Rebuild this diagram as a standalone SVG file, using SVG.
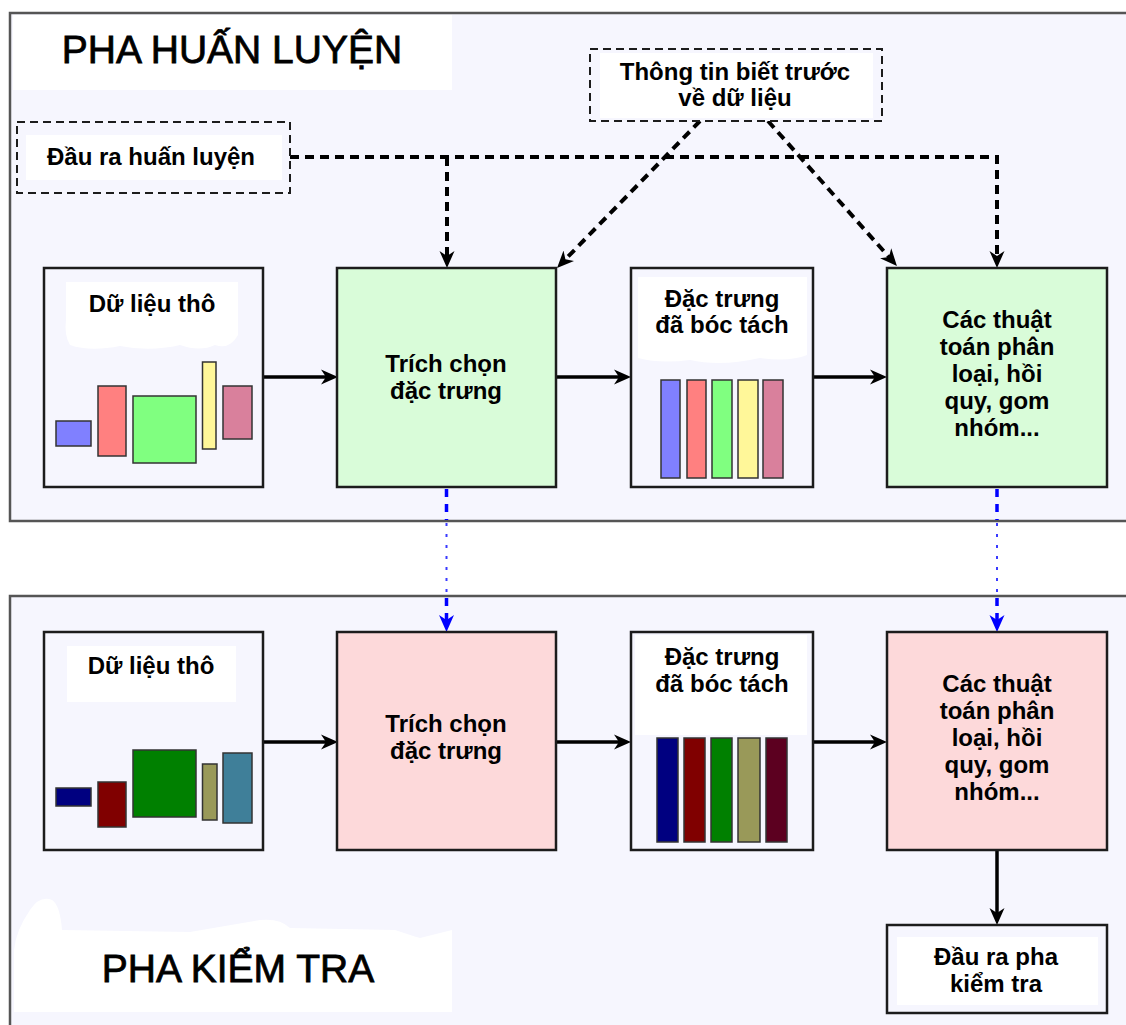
<svg xmlns="http://www.w3.org/2000/svg" width="1126" height="1025" viewBox="0 0 1126 1025">
<style>
.panel{fill:#f6f6fe;stroke:#555;stroke-width:2.5}
.box{stroke:#1c1c1c;stroke-width:2.5}
.plain{fill:#f6f6fe}
.green{fill:#d9fcd9}
.pink{fill:#fdd9da}
.dbox{fill:#f6f6fe;stroke:#1c1c1c;stroke-width:2;stroke-dasharray:8 5}
.wh{fill:#fff}
.lbl{font-family:"Liberation Sans",Arial,sans-serif;font-size:24px;font-weight:bold;fill:#000;text-anchor:middle}
.title{font-family:"Liberation Sans",Arial,sans-serif;font-size:39px;fill:#000;stroke:#000;stroke-width:0.8;text-anchor:middle}
.bar{stroke:#333;stroke-width:1.5}
.solid{fill:none;stroke:#000;stroke-width:3.5}
.dash{fill:none;stroke:#000;stroke-width:4;stroke-dasharray:9 6}
.blue{fill:none;stroke:#0000ff;stroke-width:3.5;stroke-dasharray:8 7}
.bluedot{fill:none;stroke:#3a3aff;stroke-width:2;stroke-dasharray:3 8}
</style>
<defs>
<marker id="ah" markerWidth="18" markerHeight="16" refX="7" refY="8" orient="auto" markerUnits="userSpaceOnUse">
<path d="M0,0.5 L17,8 L0,15.5 L5,8 Z" fill="#000"/>
</marker>
<marker id="ahb" markerWidth="18" markerHeight="16" refX="7" refY="8" orient="auto" markerUnits="userSpaceOnUse">
<path d="M0,0.5 L17,8 L0,15.5 L5,8 Z" fill="#0000ff"/>
</marker>
</defs>
<rect x="0" y="0" width="1126" height="1025" fill="#fff"/>
<g id="panel-train">
<rect class="panel" x="10" y="13" width="1140" height="508"/>
<rect class="wh" x="13" y="15" width="439" height="75"/>
<text class="title" x="232" y="63">PHA HUẤN LUYỆN</text>
</g>
<g id="panel-test">
<rect class="panel" x="10" y="596" width="1140" height="460"/>
<path class="wh" d="M14,1012 L14,950 Q16,930 30,910 Q40,895 52,900 Q60,905 62,930 L190,932 Q230,925 260,920 Q280,918 290,928 L395,930 Q410,935 420,938 L452,930 L452,1012 Z"/>
<text class="title" x="238" y="982">PHA KIỂM TRA</text>
</g>
<g id="connectors">
<path class="dash" d="M290,157 H997 V258" marker-end="url(#ah)"/>
<path class="dash" d="M447,157 V258" marker-end="url(#ah)"/>
<path class="dash" d="M700,121 L564,260.8" marker-end="url(#ah)"/>
<path class="dash" d="M768,121 L890.3,258.5" marker-end="url(#ah)"/>
<path class="solid" d="M263,377 H328" marker-end="url(#ah)"/>
<path class="solid" d="M557,377 H621" marker-end="url(#ah)"/>
<path class="solid" d="M813,377 H877" marker-end="url(#ah)"/>
<path class="solid" d="M263,742 H328" marker-end="url(#ah)"/>
<path class="solid" d="M557,742 H621" marker-end="url(#ah)"/>
<path class="solid" d="M813,742 H877" marker-end="url(#ah)"/>
<path class="solid" d="M997,850 V915" marker-end="url(#ah)"/>
<path class="blue" d="M446.5,489 V520"/>
<path class="bluedot" d="M446.5,523 V595"/>
<path class="blue" d="M446.5,598 V622" marker-end="url(#ahb)"/>
<path class="blue" d="M997,489 V520"/>
<path class="bluedot" d="M997,523 V595"/>
<path class="blue" d="M997,598 V622" marker-end="url(#ahb)"/>
</g>
<g id="train-output">
<rect class="dbox" x="17" y="122" width="273" height="71"/>
<rect class="wh" x="26" y="135" width="256" height="45"/>
<text class="lbl" x="151" y="165">Đầu ra huấn luyện</text>
</g>
<g id="prior-info">
<rect class="dbox" x="590" y="49" width="292" height="72"/>
<rect class="wh" x="600" y="53" width="273" height="65"/>
<text class="lbl" x="735" y="80">Thông tin biết trước</text>
<text class="lbl" x="735" y="106">về dữ liệu</text>
</g>
<g id="raw-train">
<rect class="box plain" x="44" y="268" width="219" height="219"/>
<path class="wh" d="M66,282 L238,282 L238,335 Q230,350 215,345 Q200,352 180,345 Q150,352 120,346 Q90,352 70,345 Q64,335 66,320 Z"/>
<text class="lbl" x="152" y="312">Dữ liệu thô</text>
<rect class="bar" x="56" y="421" width="35" height="25" fill="#8080ff"/>
<rect class="bar" x="98" y="386" width="28" height="70" fill="#ff8080"/>
<rect class="bar" x="133" y="396" width="63" height="67" fill="#80ff80"/>
<rect class="bar" x="202.5" y="362" width="13.5" height="87" fill="#fff799"/>
<rect class="bar" x="223" y="386" width="29" height="53" fill="#d9809c"/>
</g>
<g id="extract-train">
<rect class="box green" x="337" y="268" width="219" height="219"/>
<text class="lbl" x="446" y="372">Trích chọn</text>
<text class="lbl" x="446" y="399">đặc trưng</text>
</g>
<g id="features-train">
<rect class="box plain" x="631" y="268" width="182" height="219"/>
<path class="wh" d="M638,277 L807,277 L807,355 Q790,362 760,358 Q720,367 690,360 Q660,364 638,358 Z"/>
<text class="lbl" x="722" y="307">Đặc trưng</text>
<text class="lbl" x="722" y="333">đã bóc tách</text>
<rect class="bar" x="661" y="380" width="19" height="98" fill="#8080ff"/>
<rect class="bar" x="687" y="380" width="19" height="98" fill="#ff8080"/>
<rect class="bar" x="712" y="380" width="20" height="98" fill="#80ff80"/>
<rect class="bar" x="738" y="380" width="20" height="98" fill="#fff799"/>
<rect class="bar" x="763" y="380" width="20" height="98" fill="#d9809c"/>
</g>
<g id="algo-train">
<rect class="box green" x="887" y="268" width="220" height="219"/>
<text class="lbl" x="997" y="328">Các thuật</text>
<text class="lbl" x="997" y="355">toán phân</text>
<text class="lbl" x="997" y="382">loại, hồi</text>
<text class="lbl" x="997" y="409">quy, gom</text>
<text class="lbl" x="997" y="436">nhóm...</text>
</g>
<g id="raw-test">
<rect class="box plain" x="44" y="632" width="219" height="218"/>
<rect class="wh" x="67" y="646" width="169" height="56"/>
<text class="lbl" x="151" y="674">Dữ liệu thô</text>
<rect class="bar" x="56" y="788" width="35" height="18" fill="#000080"/>
<rect class="bar" x="98" y="782" width="28" height="45" fill="#800000"/>
<rect class="bar" x="133" y="750" width="63" height="67" fill="#008000"/>
<rect class="bar" x="202.5" y="764" width="14.5" height="56" fill="#999959"/>
<rect class="bar" x="223" y="753" width="29" height="70" fill="#3f7f99"/>
</g>
<g id="extract-test">
<rect class="box pink" x="337" y="632" width="219" height="218"/>
<text class="lbl" x="446" y="732">Trích chọn</text>
<text class="lbl" x="446" y="759">đặc trưng</text>
</g>
<g id="features-test">
<rect class="box plain" x="631" y="632" width="182" height="218"/>
<rect class="wh" x="635" y="635" width="172" height="100"/>
<text class="lbl" x="722" y="665">Đặc trưng</text>
<text class="lbl" x="722" y="692">đã bóc tách</text>
<rect class="bar" x="657" y="738" width="21" height="104" fill="#000080"/>
<rect class="bar" x="684" y="738" width="21" height="104" fill="#800000"/>
<rect class="bar" x="711" y="738" width="21" height="104" fill="#008000"/>
<rect class="bar" x="738" y="738" width="22" height="104" fill="#999959"/>
<rect class="bar" x="766" y="738" width="21" height="104" fill="#5c0020"/>
</g>
<g id="algo-test">
<rect class="box pink" x="887" y="632" width="220" height="218"/>
<text class="lbl" x="997" y="692">Các thuật</text>
<text class="lbl" x="997" y="719">toán phân</text>
<text class="lbl" x="997" y="746">loại, hồi</text>
<text class="lbl" x="997" y="773">quy, gom</text>
<text class="lbl" x="997" y="800">nhóm...</text>
</g>
<g id="test-output">
<rect class="box plain" x="887" y="925" width="220" height="88"/>
<rect class="wh" x="897" y="937" width="201" height="68"/>
<text class="lbl" x="996" y="965">Đầu ra pha</text>
<text class="lbl" x="996" y="992">kiểm tra</text>
</g>
</svg>
